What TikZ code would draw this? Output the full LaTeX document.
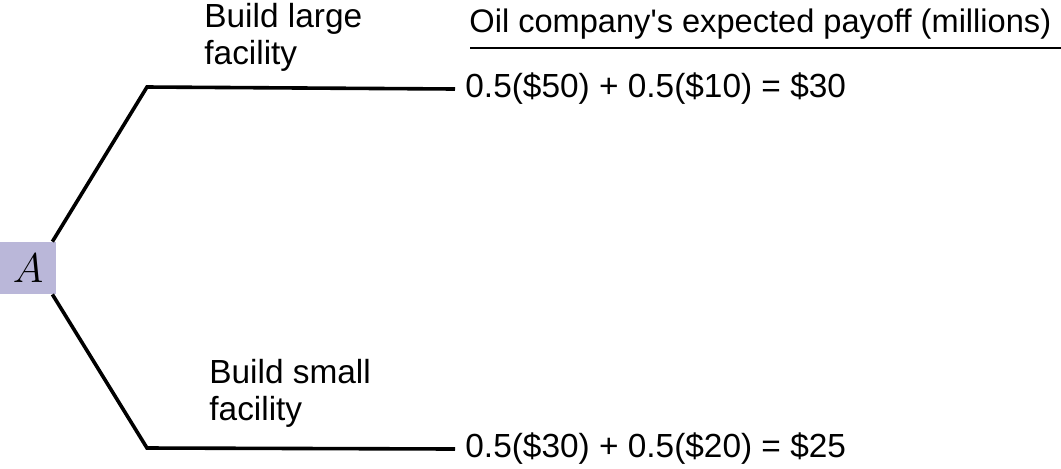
\documentclass[tikz,border=0pt]{standalone}
\usepackage{fontspec}
\setmainfont{Liberation Sans}
\usetikzlibrary{positioning}
\definecolor{boxlav}{RGB}{186,183,217}

\begin{document}
\begin{tikzpicture}[x=0.5pt, y=-0.5pt, font=\fontsize{16.7}{18.5}\selectfont,
    branch/.style={line width=1.8pt},
    choice/.style={align=left, inner sep=0pt, anchor=west},
    payoff/.style={anchor=west, inner sep=5pt}]
  \useasboundingbox (0,0) rectangle (1061,468);
  % decision node
  \node[fill=boxlav, minimum width=28pt, minimum height=26pt, inner sep=0pt] (A) at (28,268) {\fontsize{22}{22}\selectfont$A$};
  \coordinate (ubend) at (147,87);
  \coordinate (lbend) at (147,448);
  % payoffs
  \node[anchor=base west, inner sep=0pt, font=\fontsize{16.3}{18.5}\selectfont] (hdr) at (469,32) {Oil company\textquotesingle s expected payoff (millions)};
  \coordinate (rulel) at (470,48);
  \coordinate (ruler) at (1061,48);
  \draw[line width=0.8pt] (rulel) -- (ruler);
  \node[payoff] (upay) at (455,89) {0.5(\$50) + 0.5(\$10) = \$30};
  \node[payoff] (lpay) at (455,449) {0.5(\$30) + 0.5(\$20) = \$25};
  % branches
  \draw[branch] ([xshift=-2pt]A.north east) -- (ubend) -- (upay.west);
  \draw[branch] ([xshift=-2pt]A.south east) -- (lbend) -- (lpay.west);
  \node[choice] (large) at (204,37) {Build large\\facility};
  \node[choice] (small) at (209,393) {Build small\\facility};
\end{tikzpicture}
\end{document}
